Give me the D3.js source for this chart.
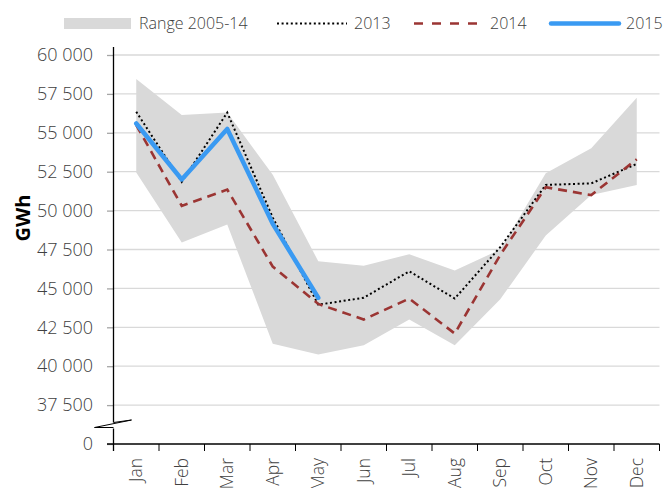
<!DOCTYPE html>
<html>
<head>
<meta charset="utf-8">
<script src="https://cdn.jsdelivr.net/npm/d3@7"></script>
<style>
  html, body { margin: 0; padding: 0; background: #fff; }
  svg { display: block; }
  text { font-family: "Open Sans", "DejaVu Sans", sans-serif; }
</style>
</head>
<body>
<svg id="chart" width="664" height="488"></svg>
<script>
// ---- data ----
const months = ["Jan","Feb","Mar","Apr","May","Jun","Jul","Aug","Sep","Oct","Nov","Dec"];
const rangeLow  = [52450, 47950, 49100, 41450, 40750, 41350, 43000, 41350, 44300, 48400, 51000, 51650];
const rangeHigh = [58450, 56150, 56300, 52300, 46750, 46450, 47200, 46150, 47500, 52400, 54000, 57250];
const s2013 = [56350, 51850, 56300, 49550, 43950, 44400, 46100, 44350, 47650, 51650, 51750, 53000];
const s2014 = [55500, 50300, 51350, 46400, 44000, 43000, 44350, 42100, 47150, 51500, 51000, 53300];
const s2015 = [55600, 52000, 55250, 49150, 44400];
const yTickValues = [35000, 37500, 40000, 42500, 45000, 47500, 50000, 52500, 55000, 57500, 60000];
const yTickLabels = ["0", "37 500", "40 000", "42 500", "45 000", "47 500", "50 000", "52 500", "55 000", "57 500", "60 000"];
const legendLabels = ["Range 2005-14", "2013", "2014", "2015"];
const yTitle = "GWh";

(function () {
// ---- layout ----
const svg = d3.select("#chart");
const pl = 113.5, pr = 659.5, pt = 55, pb = 444;
const textColor = "#404040";
const gridColor = "#d9d9d9";
const rangeColor = "#d9d9d9";
const c2013 = "#000000";
const c2014 = "#9b3533";
const c2015 = "#3a9af2";
const fw = 350;

const x = d3.scaleBand().domain(months).range([pl, pr]).padding(0);
const cx = m => x(m) + x.bandwidth() / 2;
const y = d3.scaleLinear().domain([35000, 60000]).range([pb, pt]);

// gridlines
svg.append("g").selectAll("line")
  .data(yTickValues.filter(v => v > 35000))
  .join("line")
  .attr("x1", pl).attr("x2", pr)
  .attr("y1", d => y(d)).attr("y2", d => y(d))
  .attr("stroke", gridColor).attr("stroke-width", 1.3);

// range area
const area = d3.area()
  .x((d, i) => cx(months[i]))
  .y0((d, i) => y(rangeLow[i]))
  .y1((d, i) => y(rangeHigh[i]));
svg.append("path").datum(months).attr("d", area).attr("fill", rangeColor);

// y axis
const yAxis = d3.axisLeft(y)
  .tickValues(yTickValues)
  .tickSize(6.5)
  .tickPadding(14)
  .tickFormat((d, i) => yTickLabels[i]);
const gy = svg.append("g").attr("transform", `translate(${pl},0)`).call(yAxis);
gy.select(".domain").remove();
gy.selectAll(".tick line").attr("stroke", "#a6a6a6").attr("stroke-width", 1.3);
gy.selectAll(".tick text").attr("fill", textColor).attr("font-size", 18).attr("font-weight", fw)
  .attr("font-family", '"Open Sans", sans-serif');

// y axis line with break
const breakTop = 422.5, breakBot = 428.5;
svg.append("line").attr("x1", pl).attr("x2", pl).attr("y1", pt - 8).attr("y2", breakTop)
  .attr("stroke", "#000").attr("stroke-width", 1.3);
svg.append("line").attr("x1", pl).attr("x2", pl).attr("y1", breakBot).attr("y2", pb + 7)
  .attr("stroke", "#000").attr("stroke-width", 1.3);
svg.append("path")
  .attr("d", `M${pl},${breakTop} L${pl + 18},${breakTop - 2.5} L${pl - 19},${breakBot - 1} L${pl},${breakBot - 1}`)
  .attr("fill", "#fff").attr("stroke", "#000").attr("stroke-width", 1);

// x axis
const xAxis = d3.axisBottom(x).tickSize(0).tickPadding(0);
const gx = svg.append("g").attr("transform", `translate(0,${pb})`).call(xAxis);
gx.select(".domain").remove();
gx.selectAll(".tick text")
  .attr("transform", "rotate(-90)")
  .attr("text-anchor", "end")
  .attr("x", -14).attr("y", 0).attr("dy", "0.35em")
  .attr("fill", textColor).attr("font-size", 17.5).attr("font-weight", fw)
  .attr("font-family", '"Open Sans", sans-serif');
svg.append("line").attr("x1", pl - 6.5).attr("x2", pr).attr("y1", pb).attr("y2", pb)
  .attr("stroke", "#000").attr("stroke-width", 1.3);
const bounds = months.map(m => x(m)).concat([pr]);
svg.append("g").selectAll("line").data(bounds).join("line")
  .attr("x1", d => d).attr("x2", d => d).attr("y1", pb).attr("y2", pb + 7)
  .attr("stroke", "#000").attr("stroke-width", 1);

// lines
const line = d3.line().x((d, i) => cx(months[i])).y(d => y(d));
svg.append("path").datum(s2013).attr("d", line).attr("fill", "none")
  .attr("stroke", c2013).attr("stroke-width", 2).attr("stroke-dasharray", "2,2.6");
svg.append("path").datum(s2014).attr("d", line).attr("fill", "none")
  .attr("stroke", c2014).attr("stroke-width", 2.6).attr("stroke-dasharray", "9,6");
svg.append("path").datum(s2015).attr("d", line).attr("fill", "none")
  .attr("stroke", c2015).attr("stroke-width", 4.5)
  .attr("stroke-linecap", "round").attr("stroke-linejoin", "round");

// y title
svg.append("text")
  .attr("transform", "translate(30,218) rotate(-90)")
  .attr("text-anchor", "middle")
  .attr("font-size", 20).attr("font-weight", 700).attr("fill", "#000")
  .text(yTitle);

// legend
const ly = 23.5;
const lg = svg.append("g").attr("font-size", 16).attr("font-weight", fw).attr("fill", textColor);
lg.append("rect").attr("x", 64).attr("y", ly - 5.5).attr("width", 67).attr("height", 11).attr("fill", rangeColor);
lg.append("text").attr("x", 139).attr("y", ly).attr("dy", "0.35em").text(legendLabels[0]);
lg.append("line").attr("x1", 277).attr("x2", 347).attr("y1", ly).attr("y2", ly)
  .attr("stroke", c2013).attr("stroke-width", 2).attr("stroke-dasharray", "2,2.6");
lg.append("text").attr("x", 354).attr("y", ly).attr("dy", "0.35em").text(legendLabels[1]);
lg.append("line").attr("x1", 414).attr("x2", 478).attr("y1", ly).attr("y2", ly)
  .attr("stroke", c2014).attr("stroke-width", 2.6).attr("stroke-dasharray", "9,9");
lg.append("text").attr("x", 490).attr("y", ly).attr("dy", "0.35em").text(legendLabels[2]);
lg.append("line").attr("x1", 551).attr("x2", 619).attr("y1", ly).attr("y2", ly)
  .attr("stroke", c2015).attr("stroke-width", 4.5).attr("stroke-linecap", "round");
lg.append("text").attr("x", 626).attr("y", ly).attr("dy", "0.35em").text(legendLabels[3]);
})();
</script>
</body>
</html>
